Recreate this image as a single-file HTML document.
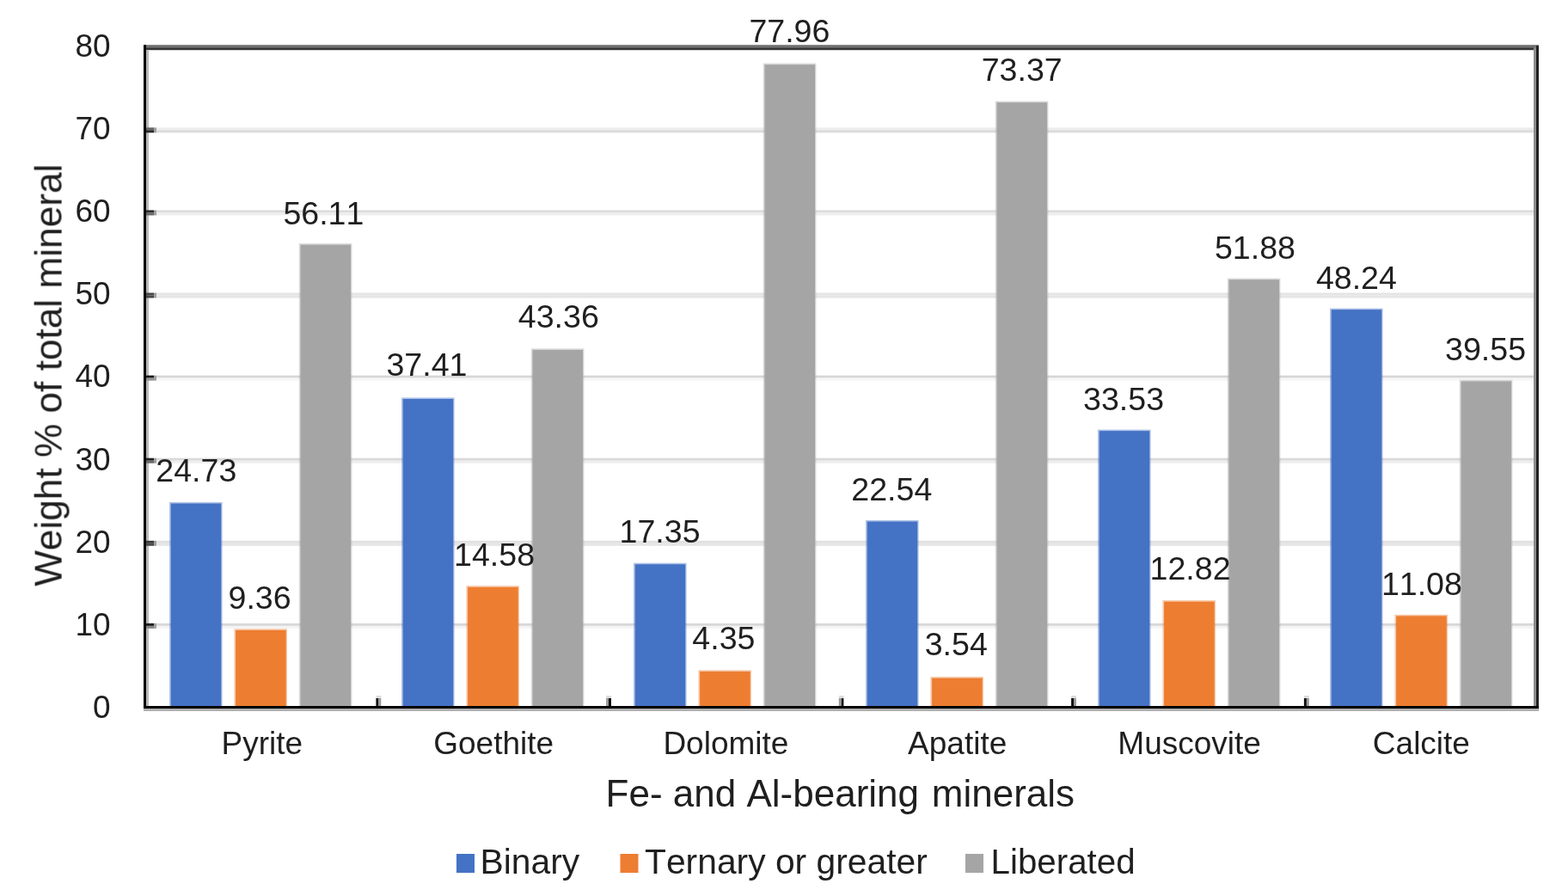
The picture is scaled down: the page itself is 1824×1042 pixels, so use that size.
<!DOCTYPE html>
<html lang="en">
<head>
<meta charset="utf-8">
<title>Fe- and Al-bearing minerals</title>
<style>
html,body{margin:0;padding:0;background:#fff;}
body{width:1824px;height:1042px;overflow:hidden;}
svg{display:block;}
text{font-family:"Liberation Sans",Arial,sans-serif;fill:#1f1f1f;font-kerning:none;}
.tick{font-size:37px;text-anchor:end;}
.lbl{font-size:37.6px;text-anchor:middle;}
.cat{font-size:37px;text-anchor:middle;}
.xt{font-size:44.0px;text-anchor:middle;}
.yt{font-size:44.2px;text-anchor:middle;}
.leg{font-size:40.8px;text-anchor:start;}
</style>
</head>
<body>
<svg width="1824" height="1042" viewBox="0 0 1824 1042">
<rect x="0" y="0" width="1824" height="1042" fill="#ffffff"/>
<defs><filter id="soft" filterUnits="userSpaceOnUse" x="0" y="0" width="1824" height="1042" color-interpolation-filters="sRGB"><feGaussianBlur stdDeviation="0.5"/></filter></defs>
<g id="chart">

<g>
<rect x="182" y="724.90" width="1602" height="3.003" fill="#D8D8D8"/>
<rect x="182" y="727.91" width="1602" height="3.003" fill="#F4F4F4"/>
<rect x="182" y="628.81" width="1602" height="3.003" fill="#E1E1E1"/>
<rect x="182" y="631.81" width="1602" height="3.003" fill="#E6E6E6"/>
<rect x="182" y="532.71" width="1602" height="3.003" fill="#D9D9D9"/>
<rect x="182" y="535.72" width="1602" height="3.003" fill="#EEEEEE"/>
<rect x="182" y="436.62" width="1602" height="3.003" fill="#D6D6D6"/>
<rect x="182" y="439.62" width="1602" height="3.003" fill="#F6F6F6"/>
<rect x="182" y="340.52" width="1602" height="3.003" fill="#E5E5E5"/>
<rect x="182" y="343.52" width="1602" height="3.003" fill="#E5E5E5"/>
<rect x="182" y="244.42" width="1602" height="3.003" fill="#DCDCDC"/>
<rect x="182" y="247.43" width="1602" height="3.003" fill="#EDEDED"/>
<rect x="182" y="148.33" width="1602" height="3.003" fill="#EDEDED"/>
<rect x="182" y="151.33" width="1602" height="3.003" fill="#DBDBDB"/>
</g>
<g>
<rect x="197.00" y="583.91" width="61.60" height="237.09" fill="#4472C4" fill-opacity="0.42"/>
<rect x="198.70" y="585.51" width="58.6" height="235.49" fill="#4472C4"/>
<rect x="272.40" y="731.27" width="61.60" height="89.73" fill="#ED7D31" fill-opacity="0.42"/>
<rect x="274.10" y="732.87" width="58.6" height="88.13" fill="#ED7D31"/>
<rect x="347.80" y="283.07" width="61.60" height="537.93" fill="#A5A5A5" fill-opacity="0.42"/>
<rect x="349.50" y="284.67" width="58.6" height="536.33" fill="#A5A5A5"/>
<rect x="467.00" y="462.35" width="61.60" height="358.65" fill="#4472C4" fill-opacity="0.42"/>
<rect x="468.70" y="463.95" width="58.6" height="357.05" fill="#4472C4"/>
<rect x="542.40" y="681.22" width="61.60" height="139.78" fill="#ED7D31" fill-opacity="0.42"/>
<rect x="544.10" y="682.82" width="58.6" height="138.18" fill="#ED7D31"/>
<rect x="617.80" y="405.31" width="61.60" height="415.69" fill="#A5A5A5" fill-opacity="0.42"/>
<rect x="619.50" y="406.91" width="58.6" height="414.09" fill="#A5A5A5"/>
<rect x="737.00" y="654.67" width="61.60" height="166.33" fill="#4472C4" fill-opacity="0.42"/>
<rect x="738.70" y="656.27" width="58.6" height="164.73" fill="#4472C4"/>
<rect x="812.40" y="779.30" width="61.60" height="41.70" fill="#ED7D31" fill-opacity="0.42"/>
<rect x="814.10" y="780.90" width="58.6" height="40.10" fill="#ED7D31"/>
<rect x="887.80" y="73.60" width="61.60" height="747.40" fill="#A5A5A5" fill-opacity="0.42"/>
<rect x="889.50" y="75.20" width="58.6" height="745.80" fill="#A5A5A5"/>
<rect x="1007.00" y="604.91" width="61.60" height="216.09" fill="#4472C4" fill-opacity="0.42"/>
<rect x="1008.70" y="606.51" width="58.6" height="214.49" fill="#4472C4"/>
<rect x="1082.40" y="787.06" width="61.60" height="33.94" fill="#ED7D31" fill-opacity="0.42"/>
<rect x="1084.10" y="788.66" width="58.6" height="32.34" fill="#ED7D31"/>
<rect x="1157.80" y="117.60" width="61.60" height="703.40" fill="#A5A5A5" fill-opacity="0.42"/>
<rect x="1159.50" y="119.20" width="58.6" height="701.80" fill="#A5A5A5"/>
<rect x="1277.00" y="499.55" width="61.60" height="321.45" fill="#4472C4" fill-opacity="0.42"/>
<rect x="1278.70" y="501.15" width="58.6" height="319.85" fill="#4472C4"/>
<rect x="1352.40" y="698.09" width="61.60" height="122.91" fill="#ED7D31" fill-opacity="0.42"/>
<rect x="1354.10" y="699.69" width="58.6" height="121.31" fill="#ED7D31"/>
<rect x="1427.80" y="323.63" width="61.60" height="497.37" fill="#A5A5A5" fill-opacity="0.42"/>
<rect x="1429.50" y="325.23" width="58.6" height="495.77" fill="#A5A5A5"/>
<rect x="1547.00" y="358.52" width="61.60" height="462.48" fill="#4472C4" fill-opacity="0.42"/>
<rect x="1548.70" y="360.12" width="58.6" height="460.88" fill="#4472C4"/>
<rect x="1622.40" y="714.78" width="61.60" height="106.22" fill="#ED7D31" fill-opacity="0.42"/>
<rect x="1624.10" y="716.38" width="58.6" height="104.62" fill="#ED7D31"/>
<rect x="1697.80" y="441.83" width="61.60" height="379.17" fill="#A5A5A5" fill-opacity="0.42"/>
<rect x="1699.50" y="443.43" width="58.6" height="377.57" fill="#A5A5A5"/>
</g>
<g>
<rect x="167" y="52.23" width="1623" height="3" fill="#707070"/>
<rect x="167" y="55.23" width="1623" height="3" fill="#363636"/>
<rect x="1784" y="55.23" width="3" height="771.77" fill="#8c8c8c"/>
<rect x="1787" y="53.23" width="3" height="773.77" fill="#222222"/>
<rect x="170" y="58.23" width="3" height="762.77" fill="#b8b8b8"/>
<rect x="167" y="52.23" width="3" height="774.77" fill="#000000"/>
<rect x="167" y="824" width="1623" height="3" fill="#b0b0b0"/>
<rect x="167" y="821" width="1623" height="3" fill="#000000"/>
</g>
<g>
<rect x="170" y="724.90" width="9" height="3.003" fill="#1f1f1f"/>
<rect x="170" y="727.91" width="9" height="3.003" fill="#888888"/>
<rect x="179" y="724.90" width="3" height="6.01" fill="#a0a0a0"/>
<rect x="170" y="628.81" width="9" height="3.003" fill="#3b3b3b"/>
<rect x="170" y="631.81" width="9" height="3.003" fill="#4c4c4c"/>
<rect x="179" y="628.81" width="3" height="6.01" fill="#a0a0a0"/>
<rect x="170" y="532.71" width="9" height="3.003" fill="#222222"/>
<rect x="170" y="535.72" width="9" height="3.003" fill="#6b6b6b"/>
<rect x="179" y="532.71" width="3" height="6.01" fill="#a0a0a0"/>
<rect x="170" y="436.62" width="9" height="3.003" fill="#1a1a1a"/>
<rect x="170" y="439.62" width="9" height="3.003" fill="#939393"/>
<rect x="179" y="436.62" width="3" height="6.01" fill="#a0a0a0"/>
<rect x="170" y="340.52" width="9" height="3.003" fill="#484848"/>
<rect x="170" y="343.52" width="9" height="3.003" fill="#484848"/>
<rect x="179" y="340.52" width="3" height="6.01" fill="#a0a0a0"/>
<rect x="170" y="244.42" width="9" height="3.003" fill="#2b2b2b"/>
<rect x="170" y="247.43" width="9" height="3.003" fill="#676767"/>
<rect x="179" y="244.42" width="3" height="6.01" fill="#a0a0a0"/>
<rect x="170" y="148.33" width="9" height="3.003" fill="#676767"/>
<rect x="170" y="151.33" width="9" height="3.003" fill="#282828"/>
<rect x="179" y="148.33" width="3" height="6.01" fill="#a0a0a0"/>
<rect x="437.40" y="812" width="3" height="9" fill="#111111"/>
<rect x="440.40" y="812" width="2.9" height="9" fill="#999999"/>
<rect x="437.40" y="809" width="5.9" height="3" fill="#dddddd"/>
<rect x="708.00" y="812" width="3" height="9" fill="#111111"/>
<rect x="705.10" y="812" width="2.9" height="9" fill="#999999"/>
<rect x="705.10" y="809" width="5.9" height="3" fill="#dddddd"/>
<rect x="978.40" y="812" width="3" height="9" fill="#111111"/>
<rect x="975.80" y="812" width="2.9" height="9" fill="#999999"/>
<rect x="975.80" y="809" width="5.9" height="3" fill="#dddddd"/>
<rect x="1246.10" y="812" width="3" height="9" fill="#111111"/>
<rect x="1249.00" y="812" width="2.9" height="9" fill="#999999"/>
<rect x="1246.10" y="809" width="5.9" height="3" fill="#dddddd"/>
<rect x="1516.90" y="812" width="3" height="9" fill="#111111"/>
<rect x="1519.90" y="812" width="2.9" height="9" fill="#999999"/>
<rect x="1516.90" y="809" width="5.9" height="3" fill="#dddddd"/>
</g>
</g>
<g id="labels" filter="url(#soft)">
<g class="tick">
<text x="128.7" y="834.80">0</text>
<text x="128.7" y="738.70">10</text>
<text x="128.7" y="642.61">20</text>
<text x="128.7" y="546.51">30</text>
<text x="128.7" y="450.42">40</text>
<text x="128.7" y="354.32">50</text>
<text x="128.7" y="258.22">60</text>
<text x="128.7" y="162.13">70</text>
<text x="128.7" y="66.03">80</text>
</g>
<g class="lbl">
<text x="228.30" y="559.81">24.73</text>
<text x="302.10" y="707.87">9.36</text>
<text x="376.40" y="260.57">56.11</text>
<text x="496.50" y="437.35">37.41</text>
<text x="575.10" y="657.72">14.58</text>
<text x="649.80" y="381.31">43.36</text>
<text x="767.60" y="631.27">17.35</text>
<text x="841.90" y="754.60">4.35</text>
<text x="918.40" y="49.00">77.96</text>
<text x="1037.30" y="581.81">22.54</text>
<text x="1112.30" y="762.46">3.54</text>
<text x="1188.70" y="93.90">73.37</text>
<text x="1307.10" y="476.75">33.53</text>
<text x="1384.60" y="674.29">12.82</text>
<text x="1460.00" y="301.43">51.88</text>
<text x="1577.90" y="335.62">48.24</text>
<text x="1653.90" y="691.68">11.08</text>
<text x="1728.10" y="419.03">39.55</text>
</g>
<g class="cat">
<text x="304.80" y="877.3">Pyrite</text>
<text x="574.15" y="877.3">Goethite</text>
<text x="844.40" y="877.3">Dolomite</text>
<text x="1113.70" y="877.3">Apatite</text>
<text x="1383.65" y="877.3">Muscovite</text>
<text x="1653.40" y="877.3">Calcite</text>
</g>
<text class="xt" x="704.6" y="938.3" style="text-anchor:start">Fe- and Al-bearing <tspan dx="2.6">minerals</tspan></text>
<text class="yt" transform="translate(71.6,436.3) rotate(-90)">Weight % of total mineral</text>
<g>
<rect x="531" y="993" width="21" height="22" fill="#4472C4"/>
<text class="leg" x="558.6" y="1015.6">Binary</text>
<rect x="721.5" y="993" width="21" height="22" fill="#ED7D31"/>
<text class="leg" x="750" y="1015.6">Ternary or greater</text>
<rect x="1123" y="993" width="21" height="22" fill="#A5A5A5"/>
<text class="leg" x="1152.6" y="1015.6" style="font-size:40.3px">Liberated</text>
</g>
</g>
</svg>
</body>
</html>
